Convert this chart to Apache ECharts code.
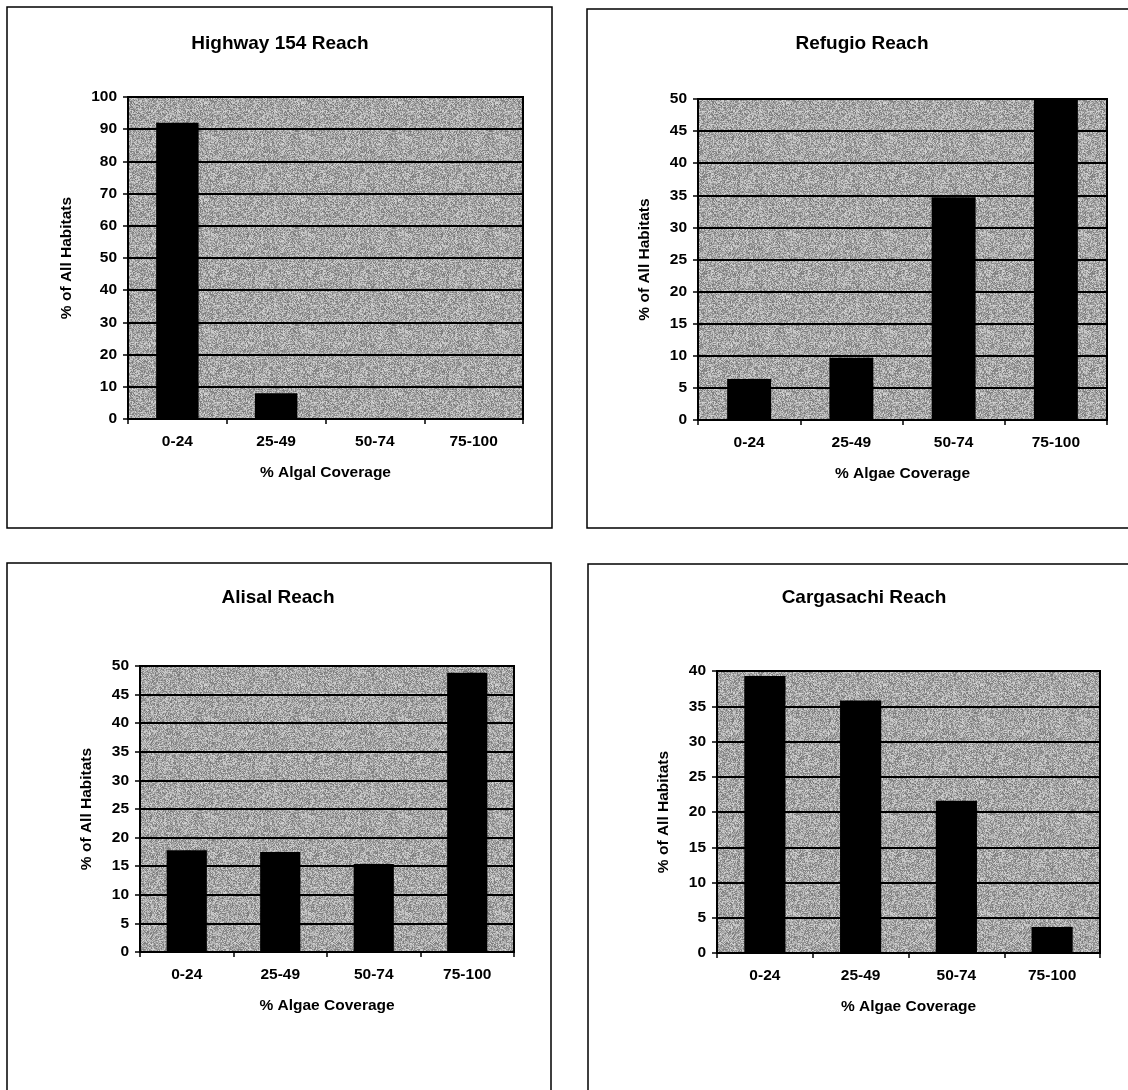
<!DOCTYPE html>
<html>
<head>
<meta charset="utf-8">
<script src="https://cdn.jsdelivr.net/npm/echarts/dist/echarts.min.js"></script>
<style>
  html, body { margin: 0; padding: 0; background: #ffffff; }
  #chart { width: 1128px; height: 1090px; }
</style>
</head>
<body>
<div id="chart"></div>
<script>
// Algal coverage classes shared by every reach
const coverageBins = ['0-24', '25-49', '50-74', '75-100'];

// Percent of all habitats in each coverage class, per reach
const highway154 = [92, 8, 0, 0];
const refugio = [6.4, 9.7, 34.7, 50];
const alisal = [17.8, 17.5, 15.4, 48.8];
const cargasachi = [39.3, 35.8, 21.6, 3.7];

const reachTitles = ['Highway 154 Reach', 'Refugio Reach', 'Alisal Reach', 'Cargasachi Reach'];
const xAxisNames = ['% Algal Coverage', '% Algae Coverage', '% Algae Coverage', '% Algae Coverage'];
const yAxisName = '% of All Habitats';
const yMax = [100, 50, 50, 40];
const yStep = [10, 5, 5, 5];

const reachValues = [highway154, refugio, alisal, cargasachi];

const FONT = "'Liberation Sans', Arial, Helvetica, sans-serif";

// Grainy grey fill for the plot areas, built from a fixed integer hash
function speckleTile(size, base, spread) {
  const c = document.createElement('canvas');
  c.width = c.height = size;
  const ctx = c.getContext('2d');
  const img = ctx.createImageData(size, size);
  for (let y = 0; y < size; y++) {
    for (let x = 0; x < size; x++) {
      let h = Math.imul(x, 374761393) ^ Math.imul(y, 668265263);
      h = Math.imul(h ^ (h >>> 13), 1274126177);
      h = h ^ (h >>> 16);
      const n = ((h & 255) / 255) - 0.5;
      const v = Math.max(0, Math.min(255, Math.round(base + n * spread)));
      const k = (y * size + x) * 4;
      img.data[k] = v; img.data[k + 1] = v; img.data[k + 2] = v; img.data[k + 3] = 255;
    }
  }
  ctx.putImageData(img, 0, 0);
  return c;
}
const plotFill = { image: speckleTile(97, 166, 96), repeat: 'repeat' };

// Page layout of the four panels (frame box, plot rectangle, title anchor, y-name gap)
const panels = [
  { box: [7, 7, 552, 528],       plot: [128, 97, 523, 419],  title: [280, 44],  yGap: 53 },
  { box: [587, 9, 1140, 528],    plot: [698, 99, 1107, 420], title: [862, 44],  yGap: 45 },
  { box: [7, 563, 551, 1100],    plot: [140, 666, 514, 952], title: [278, 598], yGap: 45 },
  { box: [588, 564, 1140, 1100], plot: [717, 671, 1100, 953], title: [864, 598], yGap: 45 }
];

const W = 1128, H = 1090;
const grids = [], xAxes = [], yAxes = [], series = [], graphics = [];
const labelFont = { fontFamily: FONT, fontWeight: 'bold', fontSize: 15.5, color: '#000' };

panels.forEach(function (p, i) {
  const [l, t, r, b] = p.plot;
  grids.push({
    left: l, top: t, width: r - l, height: b - t,
    show: true, backgroundColor: plotFill,
    borderColor: '#000', borderWidth: 2,
    containLabel: false
  });
  xAxes.push({
    type: 'category', gridIndex: i, data: coverageBins,
    name: xAxisNames[i], nameLocation: 'middle', nameGap: 46,
    nameTextStyle: labelFont,
    axisLine: { show: true, lineStyle: { color: '#000', width: 2 } },
    axisTick: { show: true, length: 5, inside: false, alignWithLabel: false, lineStyle: { color: '#000', width: 1.5 } },
    axisLabel: Object.assign({ margin: 15 }, labelFont),
    splitLine: { show: false }
  });
  yAxes.push({
    type: 'value', gridIndex: i, min: 0, max: yMax[i], interval: yStep[i],
    name: yAxisName, nameLocation: 'middle', nameRotate: 90, nameGap: p.yGap,
    nameTextStyle: labelFont,
    axisLine: { show: true, lineStyle: { color: '#000', width: 2 } },
    axisTick: { show: true, length: 5, inside: false, lineStyle: { color: '#000', width: 1.5 } },
    axisLabel: Object.assign({ margin: 11 }, labelFont),
    splitLine: { show: true, lineStyle: { color: '#000', width: 2 } }
  });
  series.push({
    type: 'bar', xAxisIndex: i, yAxisIndex: i,
    data: reachValues[i], barWidth: '43%',
    itemStyle: { color: '#000' }, clip: true
  });
  const [bx0, by0, bx1, by1] = p.box;
  graphics.push({
    type: 'rect', silent: true,
    shape: { x: bx0, y: by0, width: bx1 - bx0, height: by1 - by0 },
    style: { fill: 'none', stroke: '#000', lineWidth: 1.5 }
  });
  graphics.push({
    type: 'text', silent: true,
    x: p.title[0], y: p.title[1],
    style: {
      text: reachTitles[i], fill: '#000',
      font: 'bold 19px ' + FONT,
      textAlign: 'center', textVerticalAlign: 'middle'
    }
  });
});

const chart = echarts.init(document.getElementById('chart'), null, { renderer: 'canvas', width: W, height: H });
chart.setOption({
  animation: false,
  backgroundColor: '#ffffff',
  grid: grids,
  xAxis: xAxes,
  yAxis: yAxes,
  series: series,
  graphic: graphics
});
</script>
</body>
</html>
